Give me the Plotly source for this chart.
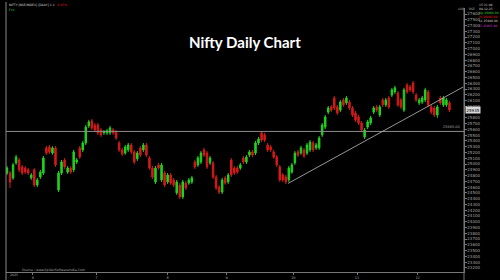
import plotly.graph_objects as go

# ---------------- data ----------------
opens = [24845,24845,24760,25020,25070,24950,24930,24900,24760,24900,24635,24775,24845,25280,25295,25190,25280,24550,24845,25070,
         24860,24930,24900,25035,25280,25245,25365,25660,25745,25675,25675,25590,25540,25540,25540,25590,25555,25365,25245,25190,
         25245,25330,25210,25090,25280,25245,25330,25105,24930,24690,24985,24725,24845,24690,24810,24725,24500,24635,24430,24670,
         24670,24690,25035,24985,25035,25245,25190,25020,25020,24775,24600,24515,24760,24690,25070,24930,24930,24930,25105,25035,
         25155,25210,25190,25365,25540,25505,25330,25295,25210,25120,24950,24810,24775,24725,24860,25020,25210,25190,25245,25190,
         25245,25365,25280,25280,25505,25640,25900,25990,26145,25990,25935,26110,26060,26075,25970,25885,25815,25710,25470,25640,
         25710,25900,25990,25850,26110,26025,26145,26195,26250,26230,26110,25935,26370,26335,26405,26195,26060,26075,26110,26250,
         25990,25970,25850,26145,26025,26025,26060]
highs = [24965,24880,25020,25160,25105,24985,24965,24930,24845,24930,24760,24900,25140,25315,25330,25310,25310,24880,25070,25105,
         24965,24965,25245,25105,25310,25400,25675,25765,25780,25710,25710,25625,25590,25610,25660,25625,25590,25400,25280,25330,
         25365,25365,25245,25225,25310,25365,25365,25140,24965,24965,25020,25020,24880,24845,24845,24760,24725,24670,24725,24705,
         24760,24795,25070,25140,25225,25280,25225,25140,25055,24810,24635,24760,24795,24845,25105,24965,24965,25020,25140,25155,
         25245,25245,25400,25470,25575,25540,25365,25330,25245,25155,24985,24845,24810,24965,25020,25225,25245,25315,25280,25365,
         25415,25400,25365,25485,25710,25850,26005,26025,26180,26025,26110,26145,26180,26110,26005,25920,25850,25745,25625,25765,
         25835,26005,26025,26025,26145,26145,26180,26320,26355,26265,26145,26320,26405,26370,26440,26230,26145,26180,26320,26285,
         26025,26005,26025,26180,26180,26145,26095]
lows = [24810,24585,24725,24985,24860,24810,24830,24810,24725,24600,24600,24740,24810,25160,25175,25160,24950,24515,24810,24915,
        24830,24830,24860,25000,25090,25210,25330,25625,25590,25555,25505,25470,25505,25505,25505,25505,25420,25210,25140,25160,
        25210,25175,25000,25055,25120,25210,25120,24900,24740,24655,24900,24690,24600,24655,24640,24600,24465,24395,24395,24550,
        24640,24655,24915,24950,25000,25120,24915,24985,24740,24550,24480,24480,24640,24655,24775,24810,24830,24900,25000,25000,
        25120,25120,25155,25330,25380,25380,25210,25210,25090,24950,24690,24690,24655,24690,24830,24985,25120,25160,25105,25155,
        25210,25210,25245,25245,25470,25605,25865,25900,25935,25850,25900,25990,26025,25935,25815,25730,25675,25555,25435,25605,
        25675,25865,25900,25815,25990,25990,25955,26160,26215,25990,25955,25900,26215,26250,26215,26075,26025,26040,26075,25990,
        25865,25815,25800,26025,25990,25990,25900]
closes = [24930,24690,24985,25120,24900,24845,24860,24845,24810,24635,24725,24860,25105,25190,25210,25280,24985,24845,25035,24950,
          24930,24860,25210,25070,25120,25365,25640,25730,25625,25590,25540,25505,25555,25575,25625,25540,25450,25245,25175,25295,
          25330,25210,25035,25190,25155,25330,25155,24930,24775,24930,24930,24985,24635,24810,24670,24635,24690,24430,24690,24585,
          24725,24760,24950,25105,25190,25155,24950,25105,24775,24585,24515,24725,24670,24810,24810,24845,24860,24985,25035,25120,
          25210,25155,25365,25435,25415,25415,25245,25245,25120,24985,24725,24725,24690,24930,24985,25190,25155,25280,25140,25330,
          25380,25245,25330,25450,25675,25815,25970,25935,25970,25885,26075,26025,26145,25970,25850,25765,25710,25590,25590,25730,
          25800,25970,25935,25990,26025,26110,25990,26285,26320,26025,25990,26285,26250,26285,26250,26110,26110,26145,26285,26025,
          25900,25850,25990,26060,26145,26110,25935]

month_pos = [8.5, 29.5, 53, 72.5, 94.5, 115.5, 135.5]
month_labels = ["6", "7", "8", "9", "10", "11", "12"]

price_ticks = [p for p in range(23200, 27700, 100) if p != 25900]

trend_idx = [92.7, 150.5]
trend_price = [24663, 26335]
resistance = 25565

# ---------------- figure ----------------
idx = list(range(len(opens)))
fig = go.Figure()
fig.add_trace(go.Candlestick(
    x=idx, open=opens, high=highs, low=lows, close=closes,
    increasing=dict(line=dict(color="#1fd41f", width=1), fillcolor="#1fd41f"),
    decreasing=dict(line=dict(color="#d61a1a", width=1), fillcolor="#d61a1a"),
    whiskerwidth=0, showlegend=False, hoverinfo="skip"))
fig.add_trace(go.Scatter(x=[-0.5, 150.8], y=[resistance, resistance], mode="lines",
                         line=dict(color="#8c8c8c", width=1), showlegend=False, hoverinfo="skip"))
fig.add_trace(go.Scatter(x=trend_idx, y=trend_price, mode="lines",
                         line=dict(color="#bdbdbd", width=0.8), showlegend=False, hoverinfo="skip"))

grey = "#a8a8a8"
fig.update_layout(
    width=500, height=280, margin=dict(l=0, r=0, t=0, b=0),
    paper_bgcolor="black", plot_bgcolor="black",
    font=dict(family="DejaVu Sans", color=grey, size=4),
    xaxis=dict(domain=[6/500, 464/500], range=[-0.33, 150.8], rangeslider=dict(visible=False),
               showgrid=False, zeroline=False, showline=True, linecolor="#777777", linewidth=1,
               tickvals=month_pos, ticktext=month_labels, ticks="outside", ticklen=2,
               tickcolor="#777777", tickfont=dict(size=3.5, color=grey)),
    yaxis=dict(domain=[1-272/280, 1-8/280], range=[23129, 27704], side="right",
               showgrid=False, zeroline=False, showline=True, linecolor="#777777", linewidth=1,
               tickvals=price_ticks, ticks="outside", ticklen=1.5, tickcolor="#777777",
               tickfont=dict(size=4, color=grey), tickformat="d"),
)

shapes = [
    dict(type="line", xref="paper", yref="paper", x0=6/500, x1=6/500, y0=0, y1=1-2/280,
         line=dict(color="#888888", width=1)),
    dict(type="line", xref="paper", yref="paper", x0=464/500, x1=464/500, y0=0, y1=1-8/280,
         line=dict(color="#777777", width=1)),
]
fig.update_layout(shapes=shapes)

ann = []
ann.append(dict(text="<b>Nifty Daily Chart</b>", x=245/500, y=1-31/280, xref="paper", yref="paper",
                showarrow=False, font=dict(family="Lato", size=15, color="white")))
ann.append(dict(text="NIFTY [NSE/INDEX] [DAILY] 1:1  <span style='color:#e02020'>-0.07%</span>",
                x=7/500, y=1-5/280, xref="paper", yref="paper", xanchor="left", yanchor="middle",
                showarrow=False, font=dict(size=3, color="#dddddd")))
ann.append(dict(text="Fno", x=7/500, y=1-10/280, xref="paper", yref="paper", xanchor="left",
                yanchor="middle", showarrow=False, font=dict(size=3, color="#30d030")))
ann.append(dict(text=f"{resistance:.2f}", x=462/500, y=resistance, xref="paper", yref="y",
                xanchor="right", yanchor="bottom", showarrow=False, font=dict(size=3.5, color=grey)))
ann.append(dict(text=f"{closes[-1]}", x=465/500, y=closes[-1], xref="paper", yref="y",
                xanchor="left", yanchor="middle", showarrow=False, bgcolor="#d8d8d8",
                font=dict(size=4, color="black"), borderpad=0.5))
ann.append(dict(text="LOG", x=456/500, y=1-9/280, xref="paper", yref="paper", xanchor="left",
                yanchor="middle", showarrow=False, font=dict(size=3, color=grey)))
ann.append(dict(text="BSE", x=467/500, y=1-9/280, xref="paper", yref="paper", xanchor="left",
                yanchor="middle", showarrow=False, font=dict(size=3, color=grey)))
info = [("15:31:09", "#cccccc"), ("08-12-25", "#cccccc"),
        (f"Op {opens[-1]:.2f}", "#30d030"), (f"Hi {highs[-1]:.2f}", "#e02020"),
        (f"Lo {lows[-1]:.2f}", "#cccccc"), (f"Cl {closes[-1]:.2f}", "#d040d0")]
for k, (t, c) in enumerate(info):
    ann.append(dict(text=t, x=477/500, y=1-(5+4.1*k)/280, xref="paper", yref="paper", xanchor="left",
                    yanchor="middle", showarrow=False, font=dict(size=3, color=c)))
ann.append(dict(text="Source : www.SpiderSoftwareIndia.Com", x=20/500, y=1-269.5/280, xref="paper",
                yref="paper", xanchor="left", yanchor="middle", showarrow=False,
                font=dict(size=3.2, color=grey)))
ann.append(dict(text="2025", x=8/500, y=1-275/280, xref="paper", yref="paper", xanchor="left",
                yanchor="middle", showarrow=False, font=dict(size=3.2, color=grey)))
fig.update_layout(annotations=ann)

fig.write_html("out.html")
